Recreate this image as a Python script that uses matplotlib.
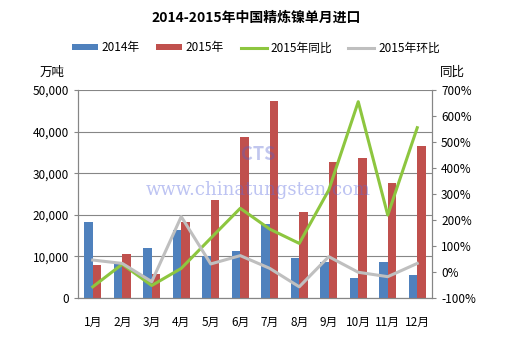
import matplotlib.pyplot as plt
import numpy as np
from matplotlib.ticker import FuncFormatter

plt.rcParams['font.family'] = ['Noto Sans CJK SC', 'DejaVu Sans']

# data
months = ['1月', '2月', '3月', '4月', '5月', '6月', '7月', '8月', '9月', '10月', '11月', '12月']
imp_2014 = [18300, 8700, 12100, 16400, 10100, 11300, 17800, 9700, 8700, 4700, 8700, 5600]
imp_2015 = [8000, 10600, 5800, 18300, 23600, 38700, 47400, 20700, 32800, 33700, 27600, 36600]
yoy_2015 = [-57, 30, -52, 14, 130, 245, 165, 110, 315, 655, 219, 555]
mom_2015 = [46, 33, -37, 213, 31, 63, 14, -57, 59, -1, -18, 33]

fig = plt.figure(figsize=(5.13, 3.5), dpi=100)
ax = fig.add_axes([78/513, 1 - 298/350, (432-78)/513, (298-90)/350])
ax2 = ax.twinx()

x = np.arange(len(months))
w = 0.28
ax.bar(x - w/2, imp_2014, width=w, color='#4F81BD', label='2014年', zorder=2)
ax.bar(x + w/2, imp_2015, width=w, color='#C0504D', label='2015年', zorder=2)

ax2.plot(x, yoy_2015, color='#8DC63F', lw=2.2, label='2015年同比', zorder=3)
ax2.plot(x, mom_2015, color='#BFBFBF', lw=2.2, label='2015年环比', zorder=3)

ax.set_xlim(-0.5, 11.5)
ax.set_ylim(0, 50000)
ax.set_yticks(range(0, 50001, 10000))
ax.yaxis.set_major_formatter(FuncFormatter(lambda v, p: f'{int(v):,}'))
ax2.set_ylim(-100, 700)
ax2.set_yticks(range(-100, 701, 100))
ax2.yaxis.set_major_formatter(FuncFormatter(lambda v, p: f'{int(v)}%'))

ax.grid(axis='y', color='#868686', lw=0.8, zorder=0)
ax.set_axisbelow(True)
ax.set_xticks(x)
ax.set_xticklabels(months)

for a in (ax, ax2):
    for s in a.spines.values():
        s.set_color('#868686')
    a.spines['top'].set_visible(False)
    a.tick_params(colors='#868686', labelcolor='black', labelsize=8.5, length=3, width=0.8)
ax.tick_params(axis='x', length=0, pad=13)

fig.text(40/513, 1 - 72/350, '万吨', fontsize=9, ha='left', va='center')
fig.text(440/513, 1 - 72/350, '同比', fontsize=9, ha='left', va='center')

fig.suptitle('2014-2015年中国精炼镍单月进口', y=1 - 18/350, va='center',
             fontsize=10, fontweight='bold')

h1, l1 = ax.get_legend_handles_labels()
h2, l2 = ax2.get_legend_handles_labels()
fig.legend(h1 + h2, l1 + l2, loc='center', bbox_to_anchor=(256/513, 1 - 48/350), ncol=4,
           frameon=False, fontsize=8.5, handlelength=2.2, handleheight=0.45,
           columnspacing=1.4, handletextpad=0.3)

# watermark
fig.text(258/513, 1 - 190/350, 'www.chinatungsten.com', fontsize=13, family='DejaVu Serif',
         color='#5A6AE0', alpha=0.4, ha='center', va='center')
fig.text(258/513, 1 - 155/350, 'CTS', fontsize=13, fontweight='bold', color='#5060D0',
         alpha=0.35, ha='center', va='center')

fig.savefig('out.png', dpi=100)
